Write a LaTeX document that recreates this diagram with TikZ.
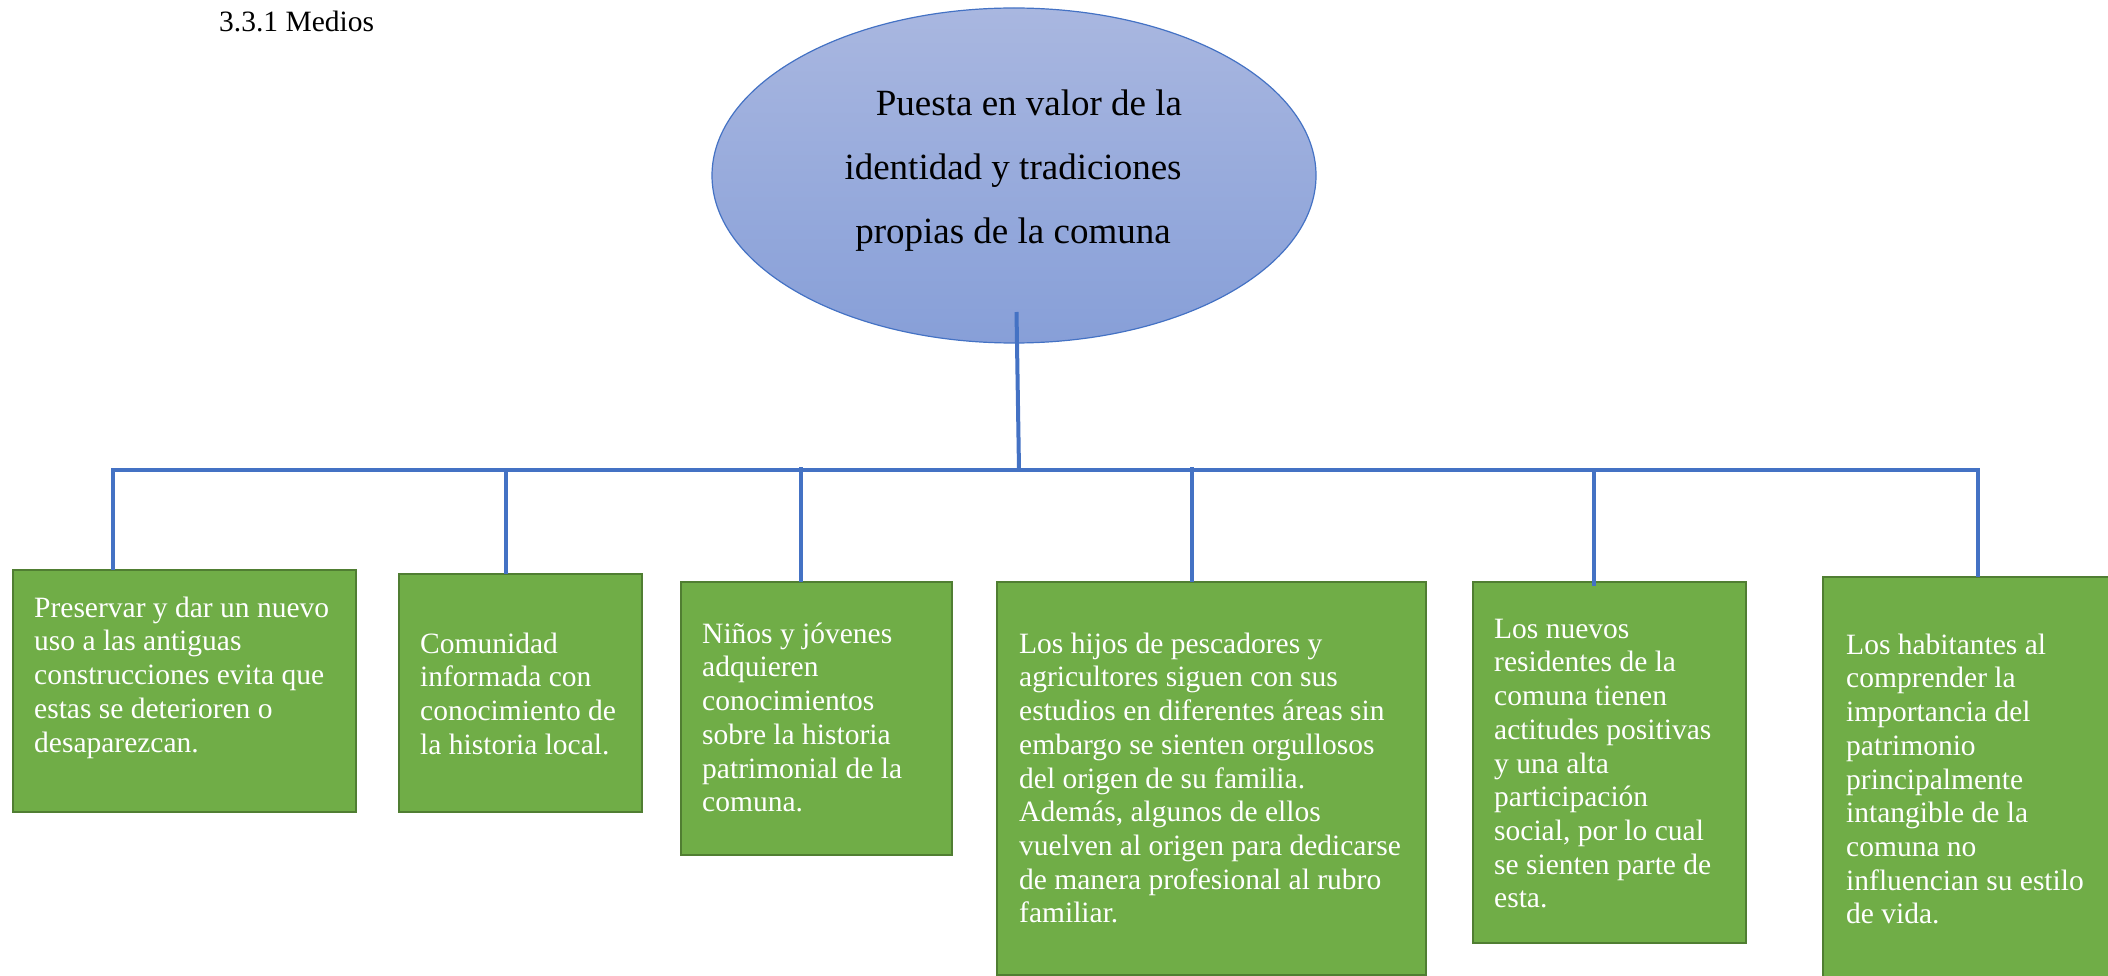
\documentclass[tikz,border=0pt]{standalone}
\usepackage{fontspec}
\setmainfont{Liberation Serif}
\usetikzlibrary{shapes.geometric}
\definecolor{lineblue}{HTML}{4472C4}
\definecolor{boxgreen}{HTML}{70AD47}
\definecolor{boxedge}{HTML}{507E32}
\definecolor{elltop}{HTML}{A9B7E0}
\definecolor{ellbot}{HTML}{879FD8}
\begin{document}
\begin{tikzpicture}[x=1pt,y=-1pt,
 link/.style={draw=lineblue, line width=4pt},
 gbox/.style={draw=boxedge, line width=2.8pt, fill=boxgreen, rectangle, anchor=north west, inner sep=0pt, outer sep=0pt},
 btext/.style={anchor=north west, inner sep=0pt, align=left, text=white, font=\fontsize{29.5}{33.7}\selectfont},
]
\useasboundingbox (0,0) rectangle (2108,976);
\clip (0,0) rectangle (2108,976);

% title
\node[anchor=base west, inner sep=0pt, font=\fontsize{29.5}{34}\selectfont] (title) at (219,32) {3.3.1 Medios};

% main ellipse
\node[ellipse, draw=lineblue, line width=1.2pt, top color=elltop, bottom color=ellbot,
      minimum width=604, minimum height=335, inner sep=0pt] (top) at (1014,175.5) {};
\node[anchor=north, inner sep=0pt, align=center, font=\fontsize{37}{64}\selectfont] (etxt) at (1013,86)
  {\rule{0pt}{29pt}\hspace*{32pt}Puesta en valor de la\\identidad y tradiciones\\propias de la comuna};

% boxes
\node[gbox, minimum width=343, minimum height=242] (b1) at (13,570) {};
\node[gbox, minimum width=243, minimum height=238] (b2) at (399,574) {};
\node[gbox, minimum width=271, minimum height=273] (b3) at (681,582) {};
\node[gbox, minimum width=429, minimum height=393] (b4) at (997,582) {};
\node[gbox, minimum width=273, minimum height=361] (b5) at (1473,582) {};
\node[gbox, minimum width=295, minimum height=412] (b6) at (1823,577) {};

% connectors
\coordinate (stemtop) at (1016.5,312);
\coordinate (j0) at (1019,470);
\coordinate (barL) at (113,470);
\coordinate (barR) at (1978,470);
\coordinate (j2) at (506,468);
\coordinate (j3) at (801,467);
\coordinate (j4) at (1192,467);
\coordinate (j5) at (1594,468);
\draw[link] (stemtop) -- (j0);
\draw[link, line join=miter] (barL |- b1.north) -- (barL) -- (barR) -- (barR |- b6.north);
\draw[link] (j2) -- (j2 |- b2.north);
\draw[link] (j3) -- (j3 |- b3.north);
\draw[link] (j4) -- (j4 |- b4.north);
\draw[link] (j5) -- ([yshift=-4pt]j5 |- b5.north);

% texts
\node[btext] (t1) at (34,595) {\rule{0pt}{22pt}Preservar y dar un nuevo\\uso a las antiguas\\construcciones evita que\\estas se deterioren o\\desaparezcan.};
\node[btext] (t2) at (420,631) {\rule{0pt}{22pt}Comunidad\\informada con\\conocimiento de\\la historia local.};
\node[btext] (t3) at (702,621) {\rule{0pt}{22pt}Niños y jóvenes\\adquieren\\conocimientos\\sobre la historia\\patrimonial de la\\comuna.};
\node[btext] (t4) at (1019,631) {\rule{0pt}{22pt}Los hijos de pescadores y\\agricultores siguen con sus\\estudios en diferentes áreas sin\\embargo se sienten orgullosos\\del origen de su familia.\\Además, algunos de ellos\\vuelven al origen para dedicarse\\de manera profesional al rubro\\familiar.};
\node[btext] (t5) at (1494,616) {\rule{0pt}{22pt}Los nuevos\\residentes de la\\comuna tienen\\actitudes positivas\\y una alta\\participación\\social, por lo cual\\se sienten parte de\\esta.};
\node[btext] (t6) at (1846,632) {\rule{0pt}{22pt}Los habitantes al\\comprender la\\importancia del\\patrimonio\\principalmente\\intangible de la\\comuna no\\influencian su estilo\\de vida.};
\end{tikzpicture}
\end{document}
